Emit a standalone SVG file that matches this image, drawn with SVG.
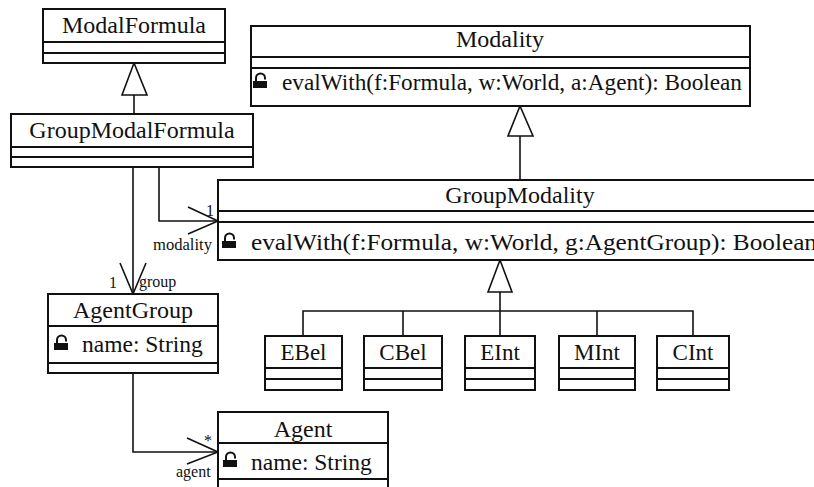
<svg xmlns="http://www.w3.org/2000/svg" xmlns:xlink="http://www.w3.org/1999/xlink" width="814" height="487" viewBox="0 0 814 487">
<style>
.box{fill:#fff;stroke:#111;stroke-width:2}
.div{stroke:#111;stroke-width:2}
.name{font-family:"Liberation Serif","Times New Roman",serif;font-size:24px;fill:#111;text-anchor:middle}
.sname{font-family:"Liberation Serif","Times New Roman",serif;font-size:23px;fill:#111;text-anchor:middle}
.member{font-family:"Liberation Serif","Times New Roman",serif;font-size:23.5px;fill:#111}
.lbl{font-family:"Liberation Serif","Times New Roman",serif;font-size:16px;fill:#111}
.edge{fill:none;stroke:#111;stroke-width:1.6}
.tri{fill:#fff;stroke:#111;stroke-width:1.6;stroke-linejoin:miter}
</style>
<defs>
<g id="lock">
<rect x="0" y="-7" width="14" height="7" fill="#111"/>
<path d="M3,-7 V-10 A4.5,4.5 0 0 1 12,-10 V-8.5" fill="none" stroke="#111" stroke-width="2"/>
</g>
</defs>
<rect width="814" height="487" fill="#fff"/>

<g id="connectors">
<!-- GroupModalFormula -> ModalFormula generalization -->
<line class="edge" x1="134" y1="95" x2="134" y2="114"/>
<polygon class="tri" points="134,63 122,95 147,95"/>
<!-- GroupModality -> Modality generalization -->
<line class="edge" x1="520" y1="136" x2="520" y2="180"/>
<polygon class="tri" points="520,106 508,136 533,136"/>
<!-- subclasses -> GroupModality -->
<polyline class="edge" points="303,336 303,311 693,311 693,336"/>
<line class="edge" x1="403" y1="311" x2="403" y2="336"/>
<line class="edge" x1="597" y1="311" x2="597" y2="336"/>
<line class="edge" x1="500" y1="292" x2="500" y2="336"/>
<polygon class="tri" points="500,260 488,292 512,292"/>
<!-- GroupModalFormula -> AgentGroup -->
<line class="edge" x1="133" y1="167" x2="133" y2="294"/>
<polyline class="edge" points="120,263 133,294 146,263"/>
<text class="lbl" x="109" y="288">1</text>
<text class="lbl" x="139" y="287">group</text>
<!-- GroupModalFormula -> GroupModality -->
<polyline class="edge" points="159,167 159,221 218,221"/>
<polyline class="edge" points="188,207 218,221 188,234"/>
<text class="lbl" x="206" y="216" font-size="14">1</text>
<text class="lbl" x="153" y="250" font-size="15" textLength="59" lengthAdjust="spacingAndGlyphs">modality</text>
<!-- AgentGroup -> Agent -->
<polyline class="edge" points="133,373 133,452 218,452"/>
<polyline class="edge" points="187,438 218,452 187,464"/>
<text class="lbl" x="204" y="446">*</text>
<text class="lbl" x="176" y="477">agent</text>
</g>

<g id="ModalFormula">
<rect class="box" x="43" y="9" width="182" height="54"/>
<line class="div" x1="43" y1="42" x2="225" y2="42"/>
<line class="div" x1="43" y1="53" x2="225" y2="53"/>
<text class="name" x="134" y="33">ModalFormula</text>
</g>

<g id="GroupModalFormula">
<rect class="box" x="11" y="114" width="242" height="53"/>
<line class="div" x1="11" y1="147" x2="253" y2="147"/>
<line class="div" x1="11" y1="157" x2="253" y2="157"/>
<text class="name" x="132" y="138">GroupModalFormula</text>
</g>

<g id="Modality">
<rect class="box" x="251" y="26" width="499" height="80"/>
<line class="div" x1="251" y1="57" x2="750" y2="57"/>
<line class="div" x1="251" y1="68" x2="750" y2="68"/>
<text class="name" x="500" y="47">Modality</text>
<use xlink:href="#lock" href="#lock" x="253" y="88"/>
<text class="member" x="282" y="90" textLength="460" lengthAdjust="spacingAndGlyphs">evalWith(f:Formula, w:World, a:Agent): Boolean</text>
</g>

<g id="GroupModality">
<rect class="box" x="218" y="180" width="604" height="80"/>
<line class="div" x1="218" y1="211" x2="822" y2="211"/>
<line class="div" x1="218" y1="222" x2="822" y2="222"/>
<text class="name" x="520" y="203">GroupModality</text>
<use xlink:href="#lock" href="#lock" x="222" y="248"/>
<text class="member" x="251" y="250" textLength="566" lengthAdjust="spacingAndGlyphs">evalWith(f:Formula, w:World, g:AgentGroup): Boolean</text>
</g>

<g id="AgentGroup">
<rect class="box" x="48" y="294" width="170" height="79"/>
<line class="div" x1="48" y1="326" x2="218" y2="326"/>
<line class="div" x1="48" y1="363" x2="218" y2="363"/>
<text class="name" x="133" y="318">AgentGroup</text>
<use xlink:href="#lock" href="#lock" x="54" y="350"/>
<text class="member" x="82" y="352">name: String</text>
</g>

<g id="Agent">
<rect class="box" x="218" y="412" width="170" height="82"/>
<line class="div" x1="218" y1="443" x2="388" y2="443"/>
<line class="div" x1="218" y1="479" x2="388" y2="479"/>
<text class="name" x="303" y="437">Agent</text>
<use xlink:href="#lock" href="#lock" x="223" y="467"/>
<text class="member" x="251" y="470">name: String</text>
</g>

<g id="EBel">
<rect class="box" x="265" y="336" width="77" height="54"/>
<line class="div" x1="265" y1="368" x2="342" y2="368"/>
<line class="div" x1="265" y1="379" x2="342" y2="379"/>
<text class="sname" x="303.5" y="360">EBel</text>
</g>

<g id="CBel">
<rect class="box" x="364" y="336" width="78" height="54"/>
<line class="div" x1="364" y1="368" x2="442" y2="368"/>
<line class="div" x1="364" y1="379" x2="442" y2="379"/>
<text class="sname" x="403" y="360">CBel</text>
</g>

<g id="EInt">
<rect class="box" x="465" y="336" width="70" height="54"/>
<line class="div" x1="465" y1="368" x2="535" y2="368"/>
<line class="div" x1="465" y1="379" x2="535" y2="379"/>
<text class="sname" x="500" y="360">EInt</text>
</g>

<g id="MInt">
<rect class="box" x="559" y="336" width="76" height="54"/>
<line class="div" x1="559" y1="368" x2="635" y2="368"/>
<line class="div" x1="559" y1="379" x2="635" y2="379"/>
<text class="sname" x="597" y="360">MInt</text>
</g>

<g id="CInt">
<rect class="box" x="657" y="336" width="72" height="54"/>
<line class="div" x1="657" y1="368" x2="729" y2="368"/>
<line class="div" x1="657" y1="379" x2="729" y2="379"/>
<text class="sname" x="693" y="360">CInt</text>
</g>
</svg>
